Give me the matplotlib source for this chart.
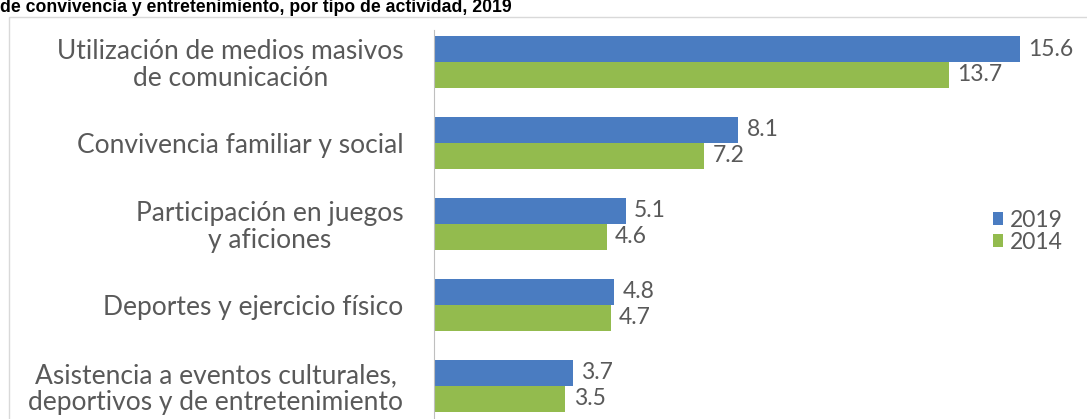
import matplotlib.pyplot as plt
from matplotlib.patches import Rectangle

categorias = ["Utilización de medios masivos\nde comunicación",
              "Convivencia familiar y social",
              "Participación en juegos\ny aficiones",
              "Deportes y ejercicio físico",
              "Asistencia a eventos culturales,\ndeportivos y de entretenimiento"]
v2019 = [15.6, 8.1, 5.1, 4.8, 3.7]
v2014 = [13.7, 7.2, 4.6, 4.7, 3.5]
titulo = "de convivencia y entretenimiento, por tipo de actividad, 2019"

azul = "#4a7cc1"
verde = "#93bb4e"
gris = "#595959"
plt.rcParams['font.family'] = ['Lato', 'DejaVu Sans']

W, H = 1087, 419
fig = plt.figure(figsize=(W / 100, H / 100), dpi=100)
fig.patches.append(Rectangle((9 / W, -0.1), 1.1, 1 - 17 / H + 0.1,
                             transform=fig.transFigure, fill=False,
                             edgecolor="#d9d9d9", lw=1))
fig.text(0, 1 - 12.5 / H, titulo, fontsize=12.7, fontweight='bold',
         family='Liberation Sans', va='baseline', ha='left')

ax = fig.add_axes([434 / W, 0, 1 - 434 / W, 1 - 30 / H])
y = list(range(len(categorias)))
h = 0.32
b1 = ax.barh([i - h / 2 for i in y], v2019, height=h, color=azul, label="2019")
b2 = ax.barh([i + h / 2 for i in y], v2014, height=h, color=verde, label="2014")
for bars, vals in ((b1, v2019), (b2, v2014)):
    for bar, v in zip(bars, vals):
        ax.annotate(f"{v}", (v, bar.get_y() + bar.get_height() / 2),
                    xytext=(6, 0), textcoords='offset points',
                    va='center', ha='left', fontsize=16.5, color=gris)

ax.set_xlim(0, (W - 434) / 37.56)
ax.set_ylim(4.41, -0.395)
ax.set_yticks(y)
ax.set_yticklabels(categorias, multialignment='center', fontsize=19,
                   color=gris, linespacing=1.1)
ax.tick_params(axis='y', length=0, pad=22)
ax.set_xticks([])
for s in ('top', 'right', 'bottom'):
    ax.spines[s].set_visible(False)
ax.spines['left'].set_color("#bfbfbf")
ax.patch.set_alpha(0)

leg = ax.legend(loc='center left', bbox_to_anchor=((972 - 434) / (W - 434), 0.483),
                frameon=False, fontsize=16.5, handlelength=0.45, handleheight=0.45,
                handletextpad=0.3, labelspacing=0.05)
for t in leg.get_texts():
    t.set_color(gris)

fig.savefig("out.png", dpi=100)
